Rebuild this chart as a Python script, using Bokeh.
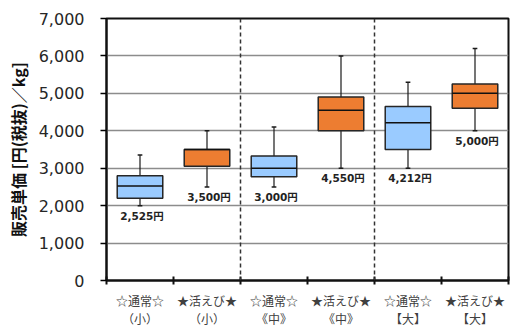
import numpy as np
from bokeh.plotting import figure
from bokeh.models import FixedTicker, NumeralTickFormatter, Span, Range1d, ColumnDataSource
from bokeh.core.properties import value
from bokeh.embed import file_html
from bokeh.resources import INLINE

# ---- data ----
label_top = ["☆通常☆", "★活えび★", "☆通常☆", "★活えび★", "☆通常☆", "★活えび★"]
label_bottom = ["（小）", "（小）", "《中》", "《中》", "【大】", "【大】"]
whisker_high = [3350, 4000, 4100, 6000, 5300, 6200]
q3 = [2800, 3500, 3325, 4900, 4650, 5250]
median = [2525, 3500, 3000, 4550, 4212, 5000]
q1 = [2200, 3050, 2775, 4000, 3500, 4600]
whisker_low = [2000, 2500, 2500, 3000, 3000, 4000]
median_labels = ["2,525円", "3,500円", "3,000円", "4,550円", "4,212円", "5,000円"]
y_ticks = [0, 1000, 2000, 3000, 4000, 5000, 6000, 7000]
y_title = "販売単価 [円(税抜)／kg]"

n = len(label_top)
xs = np.arange(n) + 0.5
bounds = list(np.arange(n + 1).astype(float))
colors = ["#9ACBFF" if "通常" in t else "#ED7D31" for t in label_top]

BW = 0.68
CAP = 0.035
src = ColumnDataSource(dict(
    x=xs, x0=xs - BW / 2, x1=xs + BW / 2, cx0=xs - CAP, cx1=xs + CAP,
    wh=whisker_high, q3=q3, med=median, q1=q1, wl=whisker_low,
    color=colors, lab=median_labels,
))

p = figure(width=510, height=329, output_backend="svg", toolbar_location=None,
           x_range=Range1d(0, n), y_range=Range1d(0, 7000),
           min_border_left=106, min_border_right=2, min_border_top=18, min_border_bottom=46)
p.background_fill_color = "white"
p.border_fill_color = "white"
p.outline_line_color = "#111111"
p.outline_line_width = 2

# grid
p.xgrid.grid_line_color = None
p.ygrid.ticker = FixedTicker(ticks=y_ticks)
p.ygrid.grid_line_color = "#8c8c8c"
p.ygrid.grid_line_width = 1.5

# separators
for b in [2, 4]:
    p.add_layout(Span(location=b, dimension="height", line_color="#333333",
                      line_dash="4 3", line_width=1.5))

# whiskers
p.segment(x0="x", y0="q3", x1="x", y1="wh", source=src, line_color="#1a1a1a", line_width=1.2)
p.segment(x0="x", y0="q1", x1="x", y1="wl", source=src, line_color="#1a1a1a", line_width=1.2)
p.segment(x0="cx0", y0="wh", x1="cx1", y1="wh", source=src, line_color="#1a1a1a", line_width=1.5)
p.segment(x0="cx0", y0="wl", x1="cx1", y1="wl", source=src, line_color="#1a1a1a", line_width=1.5)
# boxes
p.vbar(x="x", width=BW, top="q3", bottom="q1", source=src, fill_color="color",
       line_color="#262626", line_width=1.5)
p.segment(x0="x0", y0="med", x1="x1", y1="med", source=src, line_color="#111111", line_width=1.5)
# median labels
p.text(x="x", y="wl", text="lab", source=src, text_align="center", text_baseline="top",
       y_offset=4, x_offset=2, text_font=value("DejaVu Sans, Noto Sans CJK JP"),
       text_font_style="bold", text_font_size="10.5px", text_color="#222222")

# y axis
ya = p.yaxis[0]
ya.ticker = FixedTicker(ticks=y_ticks)
ya.formatter = NumeralTickFormatter(format="0,0")
ya.major_label_text_font = "DejaVu Sans"
ya.major_label_text_font_size = "16px"
ya.major_label_text_color = "#262626"
ya.major_tick_out = 6
ya.major_tick_in = 0
ya.major_tick_line_width = 1.5
ya.minor_tick_line_color = None
ya.axis_line_width = 2
ya.axis_line_color = "#111111"
ya.major_label_standoff = 16
ya.axis_label = y_title
ya.axis_label_text_font = "Noto Sans CJK JP"
ya.axis_label_text_font_style = "bold"
ya.axis_label_text_font_size = "16px"
ya.axis_label_text_color = "#111111"
ya.axis_label_standoff = 6

# x axis
xa = p.xaxis[0]
xa.ticker = FixedTicker(ticks=list(xs), minor_ticks=bounds)
xa.major_label_overrides = {float(x): f"{t}\n{b}" for x, t, b in zip(xs, label_top, label_bottom)}
xa.major_tick_line_color = None
xa.major_tick_out = 0
xa.major_tick_in = 0
xa.minor_tick_in = 4
xa.minor_tick_out = 4
xa.minor_tick_line_width = 2
xa.minor_tick_line_color = "#111111"
xa.axis_line_width = 2
xa.axis_line_color = "#111111"
xa.major_label_text_font = "Noto Sans CJK JP"
xa.major_label_text_font_size = "12px"
xa.major_label_text_color = "#404040"
xa.major_label_text_line_height = 1.08
xa.major_label_standoff = 7

open("out.html", "w").write(file_html(p, INLINE))
